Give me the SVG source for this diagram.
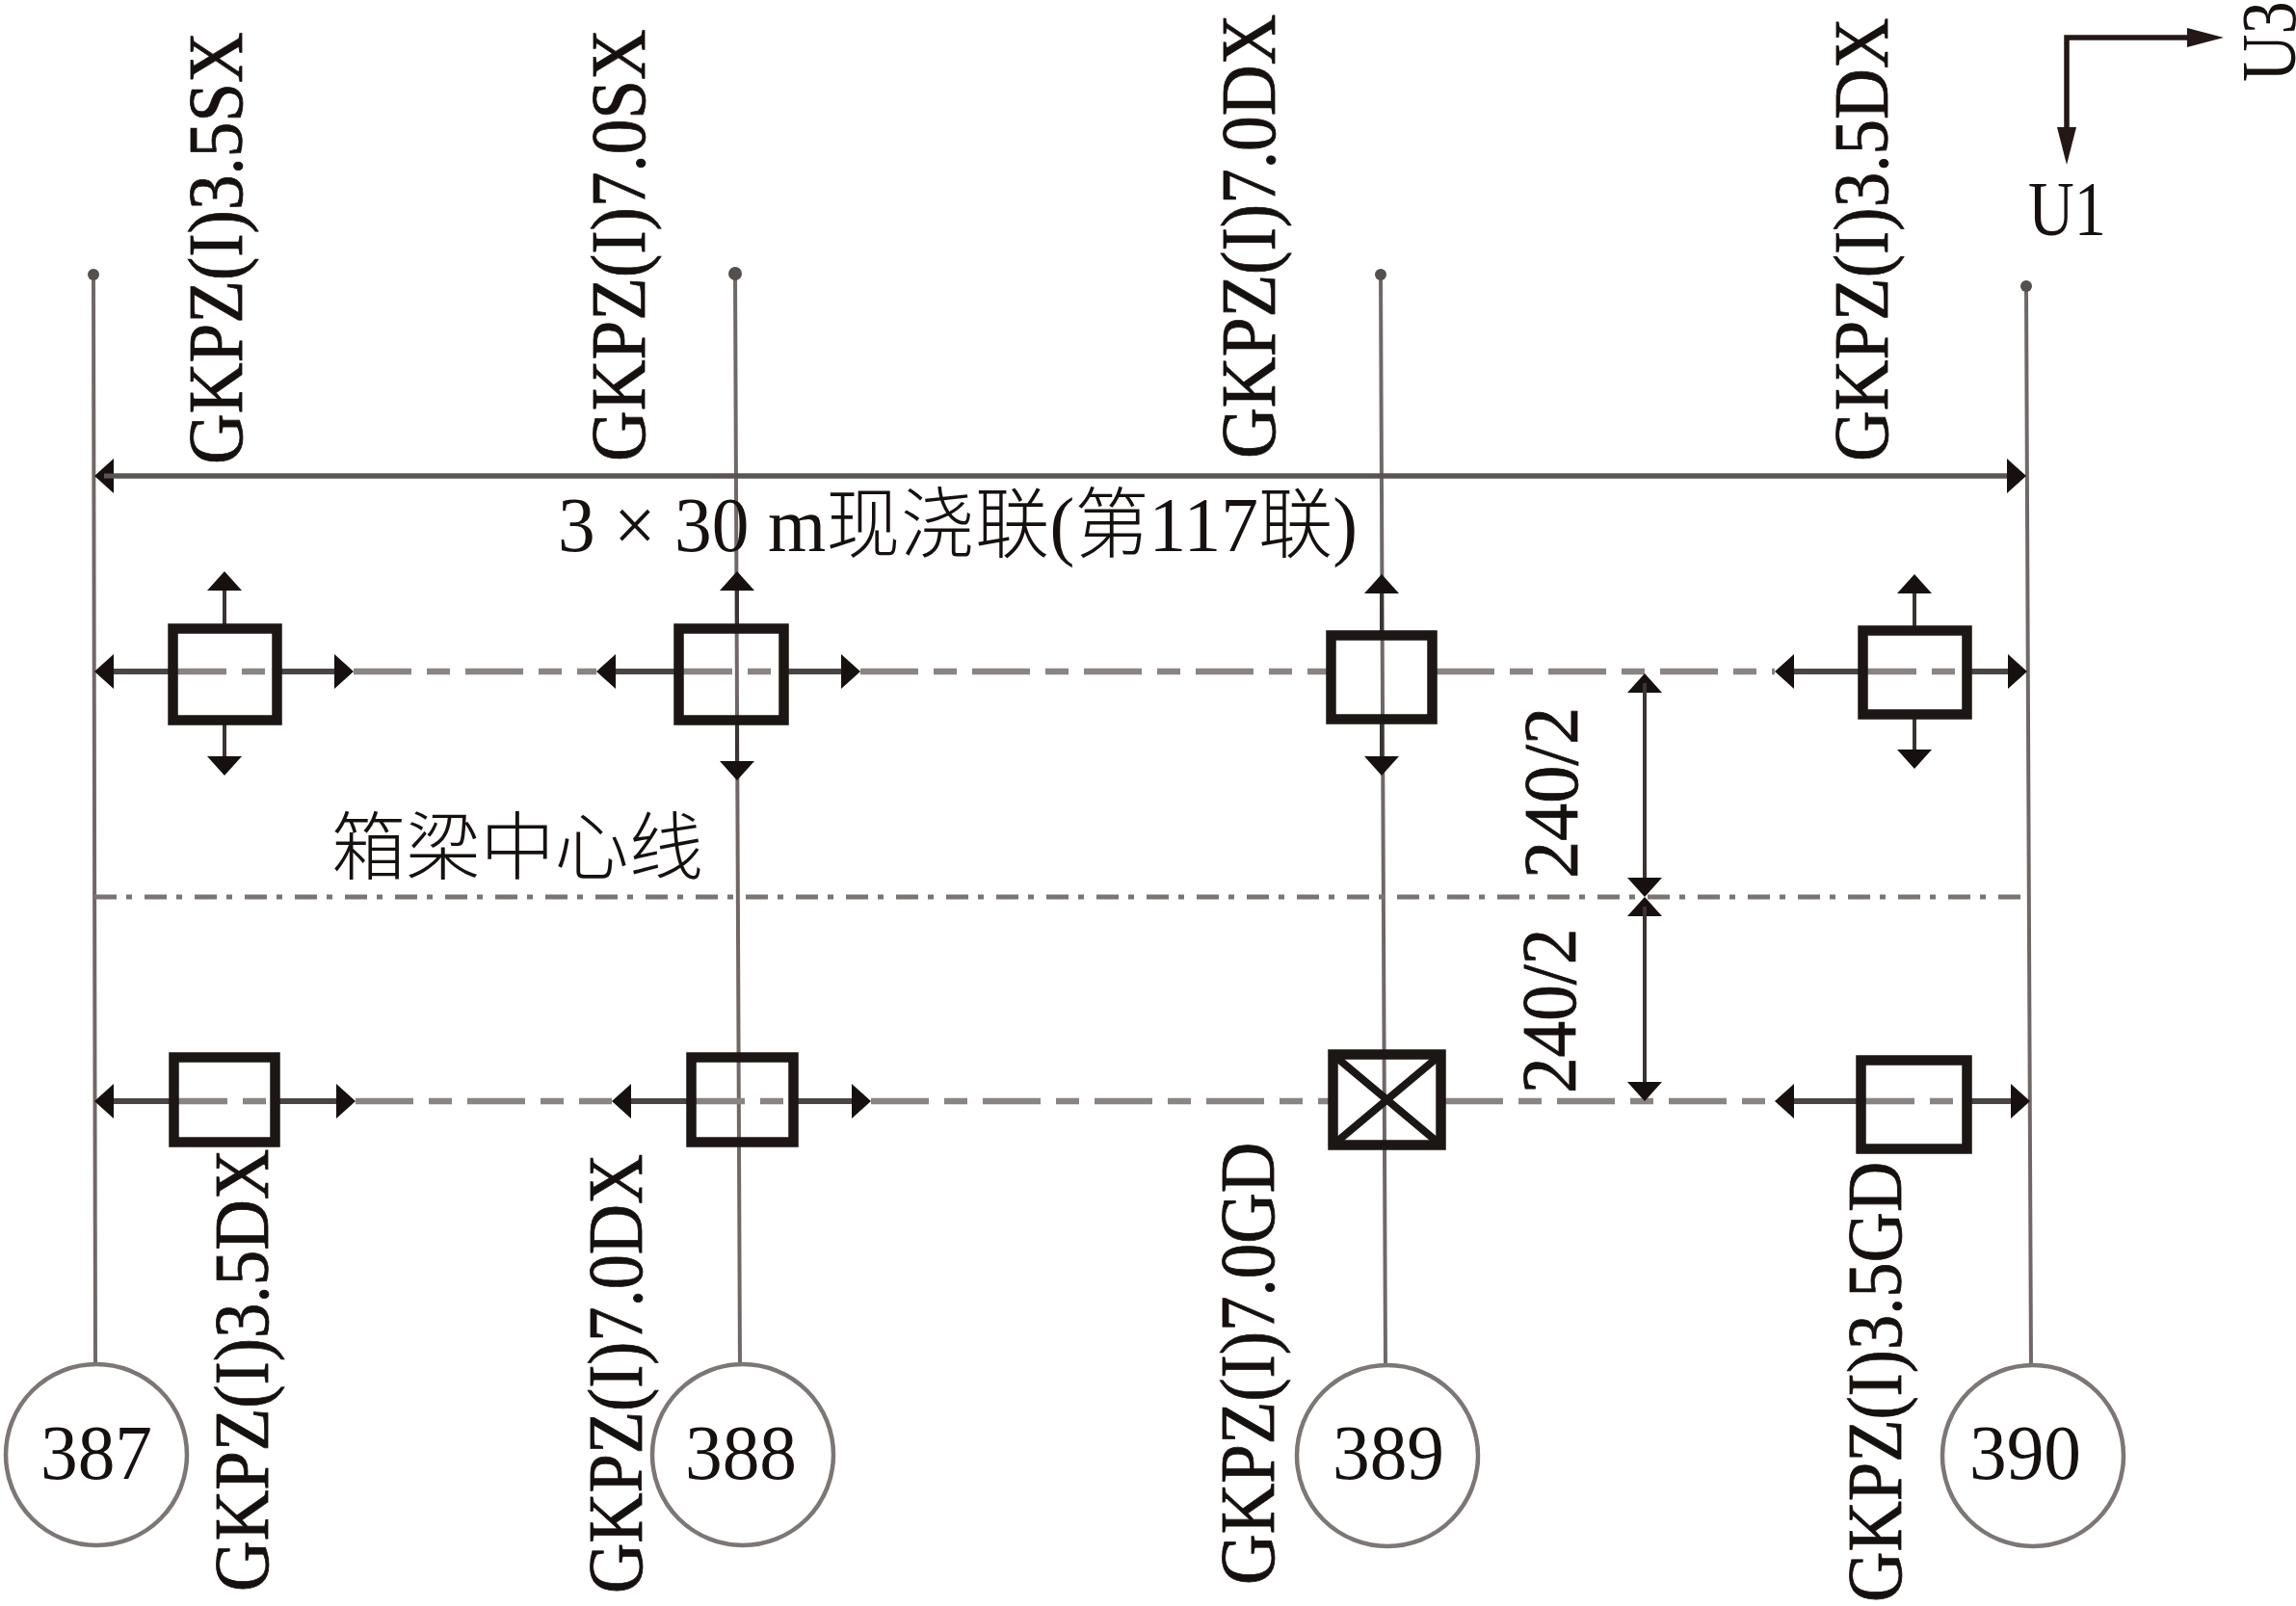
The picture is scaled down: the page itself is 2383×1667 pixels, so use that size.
<svg xmlns="http://www.w3.org/2000/svg" width="2383" height="1667" viewBox="0 0 2383 1667">
<style>
.t{font-family:"Liberation Serif","Noto Sans CJK SC",serif;font-size:80px;fill:#16110f}
.v{stroke:#16110f;stroke-width:.8}
.c{font-family:"Noto Sans CJK SC",sans-serif;font-size:77px;fill:#16110f;font-weight:300}
.pier{stroke:#6f6866;stroke-width:4;fill:none}
.row{stroke:#8a8482;stroke-width:6.500;fill:none;stroke-dasharray:60 16 24 16}
.cl{stroke:#7a7472;stroke-width:5;fill:none;stroke-dasharray:23 10 6 13}
.arr{stroke:#3a3432;stroke-width:4;fill:none;marker-end:url(#a)}
.arh{stroke:#4a4442;stroke-width:6;fill:none;marker-end:url(#a)}
.dm{stroke:#5c5452;stroke-width:5;fill:none;marker-end:url(#a)}
.box{stroke:#1c1715;stroke-width:10.500;fill:none}
.x{stroke:#1c1715;stroke-width:8;fill:none}
.ring{stroke:#7c7674;stroke-width:4.500;fill:#fff}
.ax{stroke:#231815;stroke-width:5.500;fill:none}
.dot{fill:#55504e}
</style>
<defs>
<marker id="a" markerUnits="userSpaceOnUse" markerWidth="20" markerHeight="36" viewBox="0 0 20 36" refX="10" refY="18" orient="auto"><path d="M0 0L20 18L0 36Z" fill="#16110f"/></marker>
</defs>
<g id="connectors">
<path class="pier" d="M97 284L99 1421M763 284L768 1421M1433 284L1438 1421M2103 297L2108 1421"/>
<path class="row" d="M367 697H619M893 697H1377M1491 697H1842M175 697H292M700 697H818M1929 697H2046"/>
<path class="row" d="M369 1143H635M904 1143H1379M1500 1143H1842M176 1143H290M713 1143H828M1927 1143H2046"/>
<path class="cl" d="M98 931H2105"/>
<path class="dm" d="M2093 494H108"/>
<path class="dm" d="M108 494H2093"/>
<path class="arh" d="M175 697H108"/><path class="arh" d="M292 697H357"/>
<path class="arr" d="M233 648V603"/><path class="arr" d="M233 752V795"/>
<path class="arh" d="M700 697H629"/><path class="arh" d="M818 697H883"/>
<path class="arr" d="M765 648V603"/><path class="arr" d="M765 752V800"/>
<path class="arr" d="M1434 655V606"/><path class="arr" d="M1434 751V795"/>
<path class="arh" d="M1929 697H1852"/><path class="arh" d="M2046 697H2094"/>
<path class="arr" d="M1987 650V606"/><path class="arr" d="M1987 746V788"/>
<path class="arh" d="M176 1143H108"/><path class="arh" d="M290 1143H359"/>
<path class="arh" d="M713 1143H645"/><path class="arh" d="M828 1143H894"/>
<path class="arh" d="M1927 1143H1852"/><path class="arh" d="M2046 1143H2097"/>
<path class="arr" d="M1707 921V709"/><path class="arr" d="M1707 709V921"/>
<path class="arr" d="M1707 1133V941"/><path class="arr" d="M1707 941V1133"/>
<circle class="dot" cx="97" cy="285" r="6"/><circle class="dot" cx="763" cy="284" r="7"/><circle class="dot" cx="1433" cy="285" r="6"/><circle class="dot" cx="2103" cy="297" r="6"/>
</g>
<g id="axes">
<path class="ax" d="M2270 39H2145V134"/>
<path d="M2270 29L2308 39L2270 49Z" fill="#231815"/>
<path d="M2135 132L2145 171L2155 132Z" fill="#231815"/>
<text class="t" transform="translate(2105,244) scale(.827,1)">U1</text>
<text class="t" transform="translate(2382,85) rotate(-90) scale(.857,1)">U3</text>
</g>
<g id="bearing-1"><rect class="box" x="179.500" y="652.500" width="108" height="95"/></g>
<g id="bearing-2"><rect class="box" x="704.500" y="652.500" width="109" height="95"/></g>
<g id="bearing-3"><rect class="box" x="1381.500" y="659.500" width="105" height="87"/></g>
<g id="bearing-4"><rect class="box" x="1933.500" y="654.500" width="108" height="87"/></g>
<g id="bearing-5"><rect class="box" x="180.500" y="1097.500" width="105" height="88"/></g>
<g id="bearing-6"><rect class="box" x="717.500" y="1097.500" width="106" height="88"/></g>
<g id="bearing-7"><rect class="box" x="1383.500" y="1094.500" width="112" height="94"/><path class="x" d="M1384 1095L1495 1188M1495 1095L1384 1188"/></g>
<g id="bearing-8"><rect class="box" x="1931.500" y="1100.500" width="110" height="92"/></g>
<g id="pier-387"><circle class="ring" cx="100" cy="1510" r="94"/><text class="t" transform="translate(100,1535) scale(.967,1)" text-anchor="middle">387</text></g>
<g id="pier-388"><circle class="ring" cx="771" cy="1510" r="94"/><text class="t" transform="translate(769,1535) scale(.967,1)" text-anchor="middle">388</text></g>
<g id="pier-389"><circle class="ring" cx="1440" cy="1511" r="94"/><text class="t" transform="translate(1441,1535) scale(.967,1)" text-anchor="middle">389</text></g>
<g id="pier-390"><circle class="ring" cx="2110" cy="1511" r="94"/><text class="t" transform="translate(2102,1535) scale(.967,1)" text-anchor="middle">390</text></g>
<g id="labels">
<text class="t v" transform="translate(251,482) rotate(-90) scale(.914,1)">GKPZ(I)3.5SX</text>
<text class="t v" transform="translate(669,479) rotate(-90) scale(.914,1)">GKPZ(I)7.0SX</text>
<text class="t v" transform="translate(1323,476) rotate(-90) scale(.915,1)">GKPZ(I)7.0DX</text>
<text class="t v" transform="translate(1959,479) rotate(-90) scale(.913,1)">GKPZ(I)3.5DX</text>
<text class="t v" transform="translate(278,1652) rotate(-90) scale(.911,1)">GKPZ(I)3.5DX</text>
<text class="t v" transform="translate(666,1654) rotate(-90) scale(.905,1)">GKPZ(I)7.0DX</text>
<text class="t v" transform="translate(1322,1645) rotate(-90) scale(.911,1)">GKPZ(I)7.0GD</text>
<text class="t v" transform="translate(1973,1663) rotate(-90) scale(.907,1)">GKPZ(I)3.5GD</text>
<text class="t v" transform="translate(1637,912) rotate(-90) scale(.978,1)">240/2</text>
<text class="t v" transform="translate(1635,1135) rotate(-90) scale(.94,1)">240/2</text>
<text class="t" transform="translate(579,572) scale(.968,1)">3 × 30 m<tspan font-weight="300">现浇联</tspan>(<tspan font-weight="300">第</tspan>117<tspan font-weight="300">联</tspan>)</text>
<text class="c" x="344" y="907" textLength="386" lengthAdjust="spacingAndGlyphs">箱梁中心线</text>
</g>
</svg>
